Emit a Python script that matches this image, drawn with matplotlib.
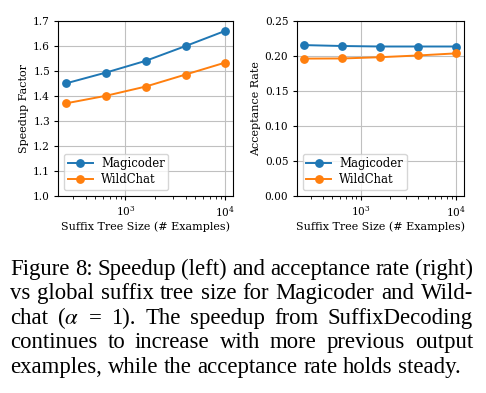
import re
import matplotlib
matplotlib.use("Agg")
import matplotlib.pyplot as plt

# suffix tree sizes (# examples)
sizes = [256, 640, 1600, 4000, 10000]
speedup_magicoder = [1.450, 1.493, 1.540, 1.599, 1.660]
speedup_wildchat = [1.370, 1.400, 1.437, 1.485, 1.533]
accept_magicoder = [0.2153, 0.2140, 0.2133, 0.2133, 0.2133]
accept_wildchat = [0.1960, 0.1962, 0.1980, 0.2005, 0.2035]

caption = [
    "Figure 8: Speedup (left) and acceptance rate (right)",
    "vs global suffix tree size for Magicoder and Wild-",
    "chat ($\\alpha$ = 1). The speedup from SuffixDecoding",
    "continues to increase with more previous output",
    "examples, while the acceptance rate holds steady.",
]

plt.rcParams["font.family"] = "DejaVu Serif"
plt.rcParams["mathtext.fontset"] = "stix"
plt.rcParams["font.size"] = 8

fig = plt.figure(figsize=(4.86, 3.93), dpi=100)
ax1 = fig.add_axes([0.120, 0.502, 0.360, 0.445])
ax2 = fig.add_axes([0.6105, 0.502, 0.344, 0.445])

for ax, mag, wild, ylab in [(ax1, speedup_magicoder, speedup_wildchat, "Speedup Factor"),
                            (ax2, accept_magicoder, accept_wildchat, "Acceptance Rate")]:
    ax.plot(sizes, mag, "-o", color="#1f77b4", lw=1.4, ms=5.3, label="Magicoder")
    ax.plot(sizes, wild, "-o", color="#ff7f0e", lw=1.4, ms=5.3, label="WildChat")
    ax.set_xscale("log")
    ax.grid(True, color="#c0c0c0", lw=0.8)
    ax.set_axisbelow(True)
    ax.set_xlabel("Suffix Tree Size (# Examples)", labelpad=2)
    ax.set_ylabel(ylab, labelpad=3)
    ax.tick_params(labelsize=7.6, length=3.2, pad=2.8)
    ax.tick_params(which="minor", length=1.8)
    ax.legend(loc="lower left", fontsize=8.4, handlelength=2.14, handletextpad=0.72,
              labelspacing=0.26, borderpad=0.3, borderaxespad=0.5,
              edgecolor="#cccccc")

ax1.set_ylim(1.0, 1.7)
ax1.set_yticks([1.0, 1.1, 1.2, 1.3, 1.4, 1.5, 1.6, 1.7])
ax2.set_ylim(0.0, 0.25)
ax2.set_yticks([0.0, 0.05, 0.10, 0.15, 0.20, 0.25])

# justified caption below the plots
fs = 16.4
fig.canvas.draw()
renderer = fig.canvas.get_renderer()
x0, x1 = 10, 473
W, H = fig.bbox.width, fig.bbox.height
y = 270
for i, line in enumerate(caption):
    words = re.findall(r"\S*\$[^$]*\$\S*|\S+", line)
    texts = [fig.text(0, 0, w, fontsize=fs, family="Liberation Serif",
                      va="baseline", ha="left") for w in words]
    widths = [t.get_window_extent(renderer).width for t in texts]
    if i < len(caption) - 1:
        gap = (x1 - x0 - sum(widths)) / (len(words) - 1)
    else:
        sp = fig.text(0, 0, "a b", fontsize=fs, family="Liberation Serif")
        a = fig.text(0, 0, "ab", fontsize=fs, family="Liberation Serif")
        gap = sp.get_window_extent(renderer).width - a.get_window_extent(renderer).width
        sp.remove(); a.remove()
    x = x0
    for t, w in zip(texts, widths):
        t.set_position((x / W, 1 - (y + 5) / H))
        x += w + gap
    y += 24.4

fig.savefig("out.png", dpi=100)
